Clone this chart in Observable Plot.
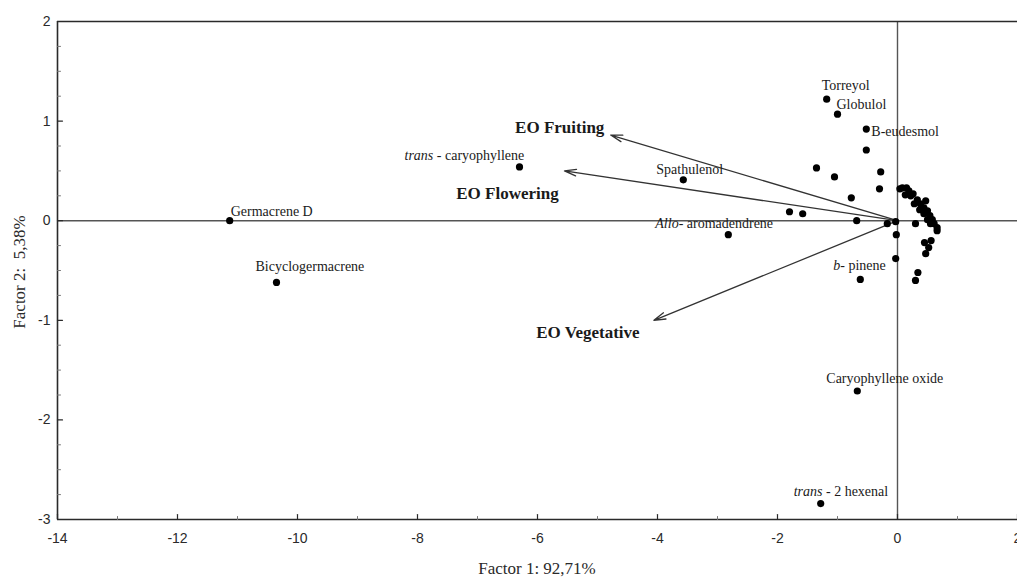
<!DOCTYPE html>
<html><head><meta charset="utf-8">
<script src="https://cdn.jsdelivr.net/npm/d3@7"></script>
<script src="https://cdn.jsdelivr.net/npm/@observablehq/plot@0.6"></script>
<style>body{margin:0;background:#fff;overflow:hidden}</style>
</head><body><div id="chart"></div>
<script>
// ---- data ----
const xLabel = "Factor 1: 92,71%";
const yLabel = "Factor 2:  5,38%";
const xTicks = [-14, -12, -10, -8, -6, -4, -2, 0, 2];
const xMinorTicks = [-13, -11, -9, -7, -5, -3, -1, 1];
const yTicks = [-3, -2, -1, 0, 1, 2];
const yMinorTicks = [-2.75, -2.5, -2.25, -1.75, -1.5, -1.25, -0.75, -0.5, -0.25, 0.25, 0.5, 0.75, 1.25, 1.5, 1.75];

// labelled compounds
const compoundNames = ["Germacrene D", "Bicyclogermacrene", "trans - caryophyllene", "Spathulenol",
  "Allo- aromadendrene", "Torreyol", "Globulol", "B-eudesmol", "b- pinene", "Caryophyllene oxide", "trans - 2 hexenal"];
const compoundItalic = ["", "", "trans", "", "Allo-", "", "", "", "b-", "", "trans"];
const compoundX = [-11.13, -10.35, -6.30, -3.57, -2.82, -1.18, -1.00, -0.52, -0.62, -0.67, -1.28];
const compoundY = [0.00, -0.62, 0.54, 0.41, -0.14, 1.22, 1.07, 0.92, -0.59, -1.71, -2.84];

// unlabelled compounds
const otherX = [-0.52, -1.35, -1.05, -0.28, -0.30, -0.77, -1.80, -1.58, -0.68, -0.17, -0.03, -0.02, -0.03,
  0.04, 0.15, 0.13, 0.22, 0.26, 0.33, 0.28, 0.38, 0.44, 0.37, 0.50, 0.44, 0.54, 0.58, 0.50, 0.61, 0.66, 0.66,
  0.55, 0.30, 0.08, 0.19, 0.47, 0.40, 0.45, 0.56, 0.52, 0.47, 0.34, 0.30];
const otherY = [0.71, 0.53, 0.44, 0.49, 0.32, 0.23, 0.09, 0.07, 0.00, -0.03, -0.01, -0.14, -0.38,
  0.32, 0.33, 0.26, 0.25, 0.27, 0.21, 0.17, 0.17, 0.13, 0.11, 0.10, 0.07, 0.05, 0.01, 0.01, -0.03, -0.07, -0.10,
  -0.03, -0.03, 0.33, 0.30, 0.20, 0.14, -0.22, -0.20, -0.27, -0.33, -0.52, -0.60];

// variable vectors
const vectorNames = ["EO Fruiting", "EO Flowering", "EO Vegetative"];
const vectorX = [-4.78, -5.55, -4.06];
const vectorY = [0.86, 0.50, -1.00];

// ---- layout (label offsets in px) ----
const compoundDx = [1, -21, -115, -27, -73, -5, -1, 5, -27, -31, -27];
const compoundDy = [-9, -16, -11, -10, -11, -14, -10, 2, -14, -13, -12];
const vectorDx = [-51, -57, -66];
const vectorDy = [-7, 23, 12];

const compounds = compoundNames.map((n, i) => ({name: n, italic: compoundItalic[i], x: compoundX[i], y: compoundY[i], dx: compoundDx[i], dy: compoundDy[i]}));
const others = otherX.map((x, i) => ({x, y: otherY[i]}));
const vectors = vectorNames.map((n, i) => ({name: n, x: vectorX[i], y: vectorY[i], dx: vectorDx[i], dy: vectorDy[i]}));

const serif = "'Liberation Serif', 'Times New Roman', serif";
const sans = "'Liberation Sans', Arial, sans-serif";
const ink = "#2a2a2a";
const tickShape = {draw(context, l) { context.moveTo(0, 0); context.lineTo(0, -l); }};

// shift each label by its own offset, and italicise its prefix when it has one
function labelRender(data) {
  return function(index, scales, values, dimensions, context, next) {
    const g = next(index, scales, values, dimensions, context);
    d3.select(g).selectAll("text").each(function(_, j) {
      const d = data[index[j]];
      const t = d3.select(this);
      const tr = t.attr("transform") || "";
      t.attr("transform", `${tr} translate(${d.dx},${d.dy})`);
      if (d.italic) {
        t.text(null);
        t.append("tspan").attr("font-style", "italic").text(d.italic);
        t.append("tspan").text(d.name.slice(d.italic.length));
      }
    });
    return g;
  };
}

const width = 1017, height = 577, marginLeft = 57, marginTop = 21, marginBottom = 58;

const chart = Plot.plot({
  width,
  height,
  marginLeft,
  marginRight: 0,
  marginTop,
  marginBottom,
  style: {background: "#fff"},
  x: {domain: [-14, 2]},
  y: {domain: [-3, 2]},
  marks: [
    // zero reference lines
    Plot.ruleX([0], {stroke: "#555", strokeWidth: 1.4}),
    Plot.ruleY([0], {stroke: "#555", strokeWidth: 1.4}),
    // frame (left, top, bottom)
    Plot.ruleY([-3, 2], {stroke: ink, strokeWidth: 1.6}),
    Plot.ruleX([-14], {stroke: ink, strokeWidth: 1.6}),
    // inward ticks
    Plot.vector(xTicks, {x: d => d, y: -3, length: 5, rotate: 0, anchor: "start", shape: tickShape, stroke: ink, strokeWidth: 1.2}),
    Plot.vector(xMinorTicks, {x: d => d, y: -3, length: 3, rotate: 0, anchor: "start", shape: tickShape, stroke: "#777", strokeWidth: 1}),
    Plot.vector(yTicks, {x: -14, y: d => d, length: 5, rotate: 90, anchor: "start", shape: tickShape, stroke: ink, strokeWidth: 1.2}),
    Plot.vector(yMinorTicks, {x: -14, y: d => d, length: 3, rotate: 90, anchor: "start", shape: tickShape, stroke: "#777", strokeWidth: 1}),
    Plot.axisX(xTicks, {tickSize: 0, tickPadding: 14, tickFormat: d => String(d), fontSize: 14, fontFamily: sans, fill: ink, label: null}),
    Plot.axisY(yTicks, {tickSize: 0, tickPadding: 7, tickFormat: d => String(d), fontSize: 14, fontFamily: sans, fill: ink, label: null}),
    // vectors
    Plot.arrow(vectors, {x1: 0, y1: 0, x2: "x", y2: "y", stroke: "#333", strokeWidth: 1.3, headLength: 14, headAngle: 32}),
    Plot.text(vectors, {x: "x", y: "y", text: "name", fontSize: 17, fontWeight: "bold", fontFamily: serif, fill: "#1a1a1a", render: labelRender(vectors)}),
    // points
    Plot.dot(others, {x: "x", y: "y", r: 3.6, fill: "#000"}),
    Plot.dot(compounds, {x: "x", y: "y", r: 3.6, fill: "#000"}),
    Plot.text(compounds, {x: "x", y: "y", text: "name", textAnchor: "start", fontSize: 14, fontFamily: serif, fill: "#1a1a1a", render: labelRender(compounds)}),
    // axis titles
    () => {
      const g = d3.create("svg:g")
        .attr("font-family", serif).attr("font-size", 17).attr("fill", ink).attr("text-anchor", "middle");
      g.append("text").attr("x", (marginLeft + width) / 2).attr("y", 568).attr("dy", "0.35em").text(xLabel);
      g.append("text").attr("transform", `translate(19,${(marginTop + height - marginBottom) / 2 + 2}) rotate(-90)`)
        .attr("dy", "0.35em").attr("xml:space", "preserve").style("white-space", "pre").text(yLabel);
      return g.node();
    }
  ]
});
document.getElementById("chart").appendChild(chart);
</script></body></html>
